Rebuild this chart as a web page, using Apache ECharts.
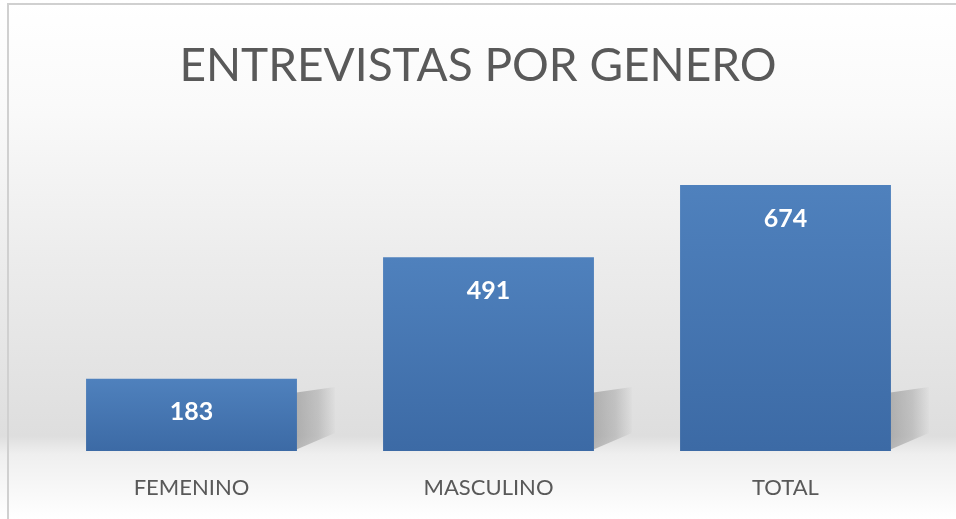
<!DOCTYPE html>
<html><head><meta charset="utf-8">
<script src="https://cdn.jsdelivr.net/npm/echarts@6/dist/echarts.min.js"></script>
<style>html,body{margin:0;padding:0;background:#fff}#c{width:956px;height:519px}</style>
</head><body><div id="c"></div>
<script>
const titleText = "ENTREVISTAS POR GENERO";
const categories = ["FEMENINO", "MASCULINO", "TOTAL"];
const values = [183, 491, 674];

const chart = echarts.init(document.getElementById('c'));
chart.setOption({
  animation: false,
  backgroundColor: {
    type: 'linear', x: 0, y: 0, x2: 0, y2: 1,
    colorStops: [
      {offset: 0, color: '#ffffff'},
      {offset: 0.2, color: '#fafafa'},
      {offset: 0.5, color: '#ececec'},
      {offset: 0.84, color: '#dedede'},
      {offset: 0.875, color: '#efefef'},
      {offset: 1, color: '#ffffff'}
    ]
  },
  graphic: [{
    type: 'rect', shape: {x: 8, y: 4, width: 960, height: 530},
    style: {fill: 'none', stroke: '#d0d0d0', lineWidth: 2}, z: 100
  }],
  title: {
    text: titleText, left: 'center', top: 38,
    textStyle: {fontFamily: 'Lato', fontWeight: 'normal', fontSize: 46, color: '#595959'}
  },
  grid: {left: 43, right: 22, top: 185, bottom: 68},
  xAxis: {
    type: 'category', data: categories,
    axisLine: {show: false}, axisTick: {show: false},
    axisLabel: {fontFamily: 'Lato', fontSize: 22, color: '#595959', margin: 26}
  },
  yAxis: {type: 'value', min: 0, max: 'dataMax', show: false, splitLine: {show: false}},
  series: [{
    type: 'custom', z: 1, silent: true,
    data: values,
    renderItem: function (params, api) {
      const x = api.value(0), v = api.value(1);
      const bot = api.coord([x, 0]);
      const half = api.size([1, 0])[0] * 0.355;
      const R = bot[0] + half, B = bot[1];
      return {
        type: 'polygon',
        shape: {points: [[R - 4, B], [R - 4, B - 58], [R + 38, B - 64], [R + 38, B - 18]]},
        style: {
          fill: {type: 'linear', x: 0, y: 0, x2: 1, y2: 0, colorStops: [
            {offset: 0, color: 'rgba(100,100,100,0.42)'},
            {offset: 0.6, color: 'rgba(100,100,100,0.25)'},
            {offset: 1, color: 'rgba(100,100,100,0.02)'}]}
        }
      };
    }
  }, {
    type: 'bar', z: 2, data: values, barWidth: '71%',
    itemStyle: {
      color: {type: 'linear', x: 0, y: 0, x2: 0, y2: 1, colorStops: [
        {offset: 0, color: '#4f81bd'}, {offset: 1, color: '#3c6aa5'}]}
    },
    label: {
      show: true, position: 'insideTop', distance: 21,
      fontFamily: 'Lato', fontWeight: 'bold', fontSize: 25, color: '#ffffff'
    }
  }]
});
</script></body></html>
